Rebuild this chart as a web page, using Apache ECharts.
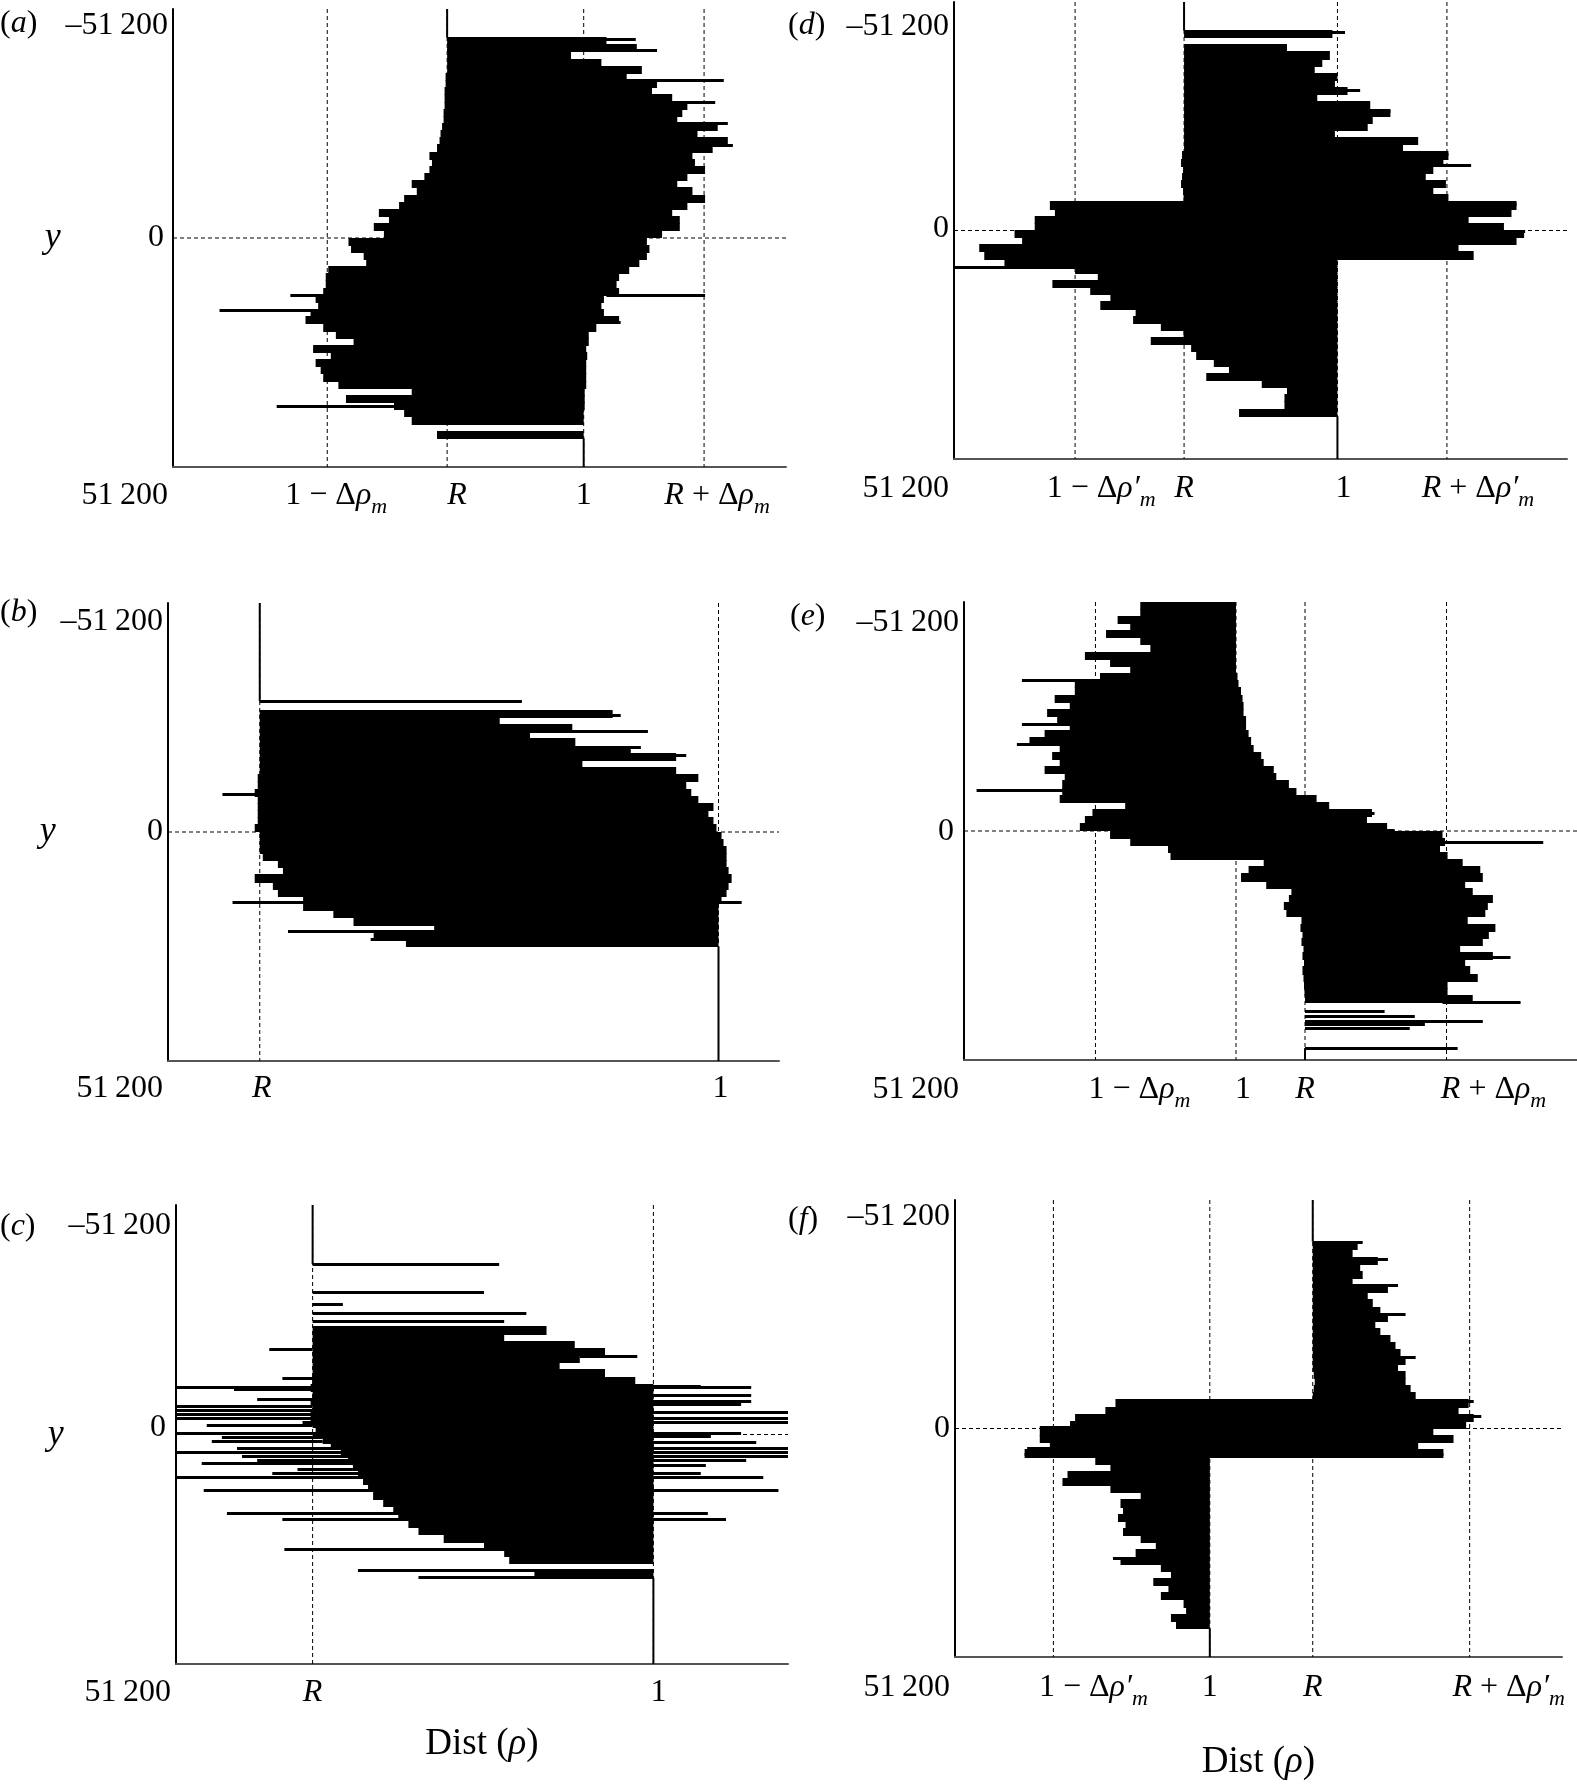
<!DOCTYPE html>
<html>
<head>
<meta charset="utf-8">
<script src="https://cdn.jsdelivr.net/npm/echarts@6.0.0/dist/echarts.min.js"></script>
<style>
html, body { margin: 0; padding: 0; background: #fff; }
#main { width: 1577px; height: 1786px; }
</style>
</head>
<body>
<div id="main"></div>
<script>
// y runs from -51 200 (top) to 51 200 (bottom); each row covers ROW units
var ROW = 1600;
var Y_MIN = -51200, Y_MAX = 51200;
var yTicks = [-51200, 0, 51200];

// ---- (a) ----
var aTicks = [0.493, 0.730, 1.000, 1.238];
var aTickNames = ['1-dm', 'R', '1', 'R+dm'];
var aStart = 4;
var aLeft = [
  0.730,0.730,0.730,0.730,0.730,0.727,0.727,0.725,0.725,0.725,
  0.723,0.723,0.720,0.717,0.715,0.710,0.695,0.700,0.695,0.685,
  0.660,0.670,0.645,0.635,0.595,0.615,0.585,0.605,0.535,0.540,
  0.565,0.570,0.495,0.490,0.490,0.485,0.470,0.475,0.460,0.450,
  0.485,0.510,0.545,0.465,0.500,0.470,0.480,0.485,0.515,0.660,
  0.530,0.625,0.645,0.660,null,0.710];
var aRight = [
  1.045,1.105,0.975,1.035,1.115,1.085,1.145,1.135,1.175,1.205,
  1.195,1.185,1.265,1.225,1.285,1.255,1.215,1.220,1.240,1.205,
  1.185,1.215,1.240,1.205,1.175,1.190,1.190,1.155,1.125,1.130,
  1.125,1.110,1.090,1.070,1.065,1.070,1.040,1.035,1.040,1.070,
  1.025,1.010,1.010,1.005,1.007,1.005,1.005,1.005,1.005,1.002,
  1.002,1.002,1.000,1.000,null,1.000];
var aSpikes = [[-44600,0.730,1.103],[-42080,0.730,1.145],[-35290,0.930,1.277],[-30390,1.075,1.260],
  [-25720,1.135,1.285],[-20810,1.215,1.295],[12740,0.420,0.490],[12740,1.045,1.240],
  [16130,0.280,0.490],[18770,1.045,1.073],[37620,0.393,0.840]];

// ---- (d) ----
var dTicks = [0.480, 0.696, 1.000, 1.217];
var dTickNames = ['1-dm2', 'R', '1', 'R+dm2'];
var dStart = 4;
var dLeft = [
  0.696,null,0.696,0.696,0.696,0.696,0.696,0.696,0.696,0.696,
  0.696,0.696,0.696,0.696,0.696,0.696,0.696,0.692,0.690,0.694,
  0.692,0.690,0.694,0.695,0.430,0.440,0.400,0.400,0.360,0.375,
  0.290,0.300,0.340,0.480,0.525,0.435,0.510,0.550,0.530,0.600,
  0.595,0.650,0.695,0.630,0.710,0.720,0.755,0.785,0.740,0.850,
  0.900,0.895,0.895,0.805];
var dRight = [
  0.990,null,0.900,0.985,0.970,0.955,1.000,0.995,1.020,0.960,
  1.065,1.105,1.070,1.060,0.995,1.160,1.130,1.220,1.210,1.190,
  1.175,1.215,1.190,1.220,1.355,1.345,1.260,1.330,1.370,1.355,
  1.240,1.270,1.000,1.000,1.000,1.000,1.000,1.000,1.000,1.000,
  1.000,1.000,1.000,1.000,1.000,1.000,1.000,1.000,1.000,1.000,
  1.000,1.000,1.000,1.000];
var dSpikes = [[-44470,0.696,1.015],[-31390,0.860,1.045],[-26700,0.810,1.105],[-17240,0.960,1.220],
  [-14600,1.010,1.265],[-5900,0.520,1.355],[150,1.270,1.372],[2420,1.210,1.350],[8090,0.240,0.480]];

// ---- (b) ----
var bTicks = [0.545, 1.000];
var bTickNames = ['R', '1'];
var bStart = 13;
var bLeft = [
  null,null,0.545,0.545,0.545,0.545,0.545,0.545,0.545,0.545,
  0.545,0.543,0.543,0.540,0.543,0.543,0.543,0.543,0.540,0.545,
  0.545,0.545,0.548,0.563,0.568,0.540,0.558,0.563,0.588,0.588,
  0.618,0.638,0.718,0.658,0.690];
var bRight = [
  null,null,0.895,0.783,0.855,0.813,0.858,0.913,0.958,0.865,
  0.958,0.980,0.968,0.973,0.980,0.995,0.990,0.995,0.998,1.003,
  1.005,1.008,1.008,1.008,1.010,1.013,1.010,1.008,1.003,1.000,
  1.000,1.000,1.000,1.000,1.000];
var bSpikes = [[-29290,0.545,0.805],[-26260,0.545,0.903],[-22480,0.623,0.930],[-19080,0.758,0.923],
  [-17190,0.778,0.968],[-8500,0.508,0.545],[15680,0.518,1.023],[22100,0.573,0.818],[23990,0.655,1.000]];

// ---- (e) ----
var eTicks = [0.721, 1.000, 1.137, 1.418];
var eTickNames = ['1-dm', '1', 'R', 'R+dm'];
var eStart = 0;
var eLeft = [
  0.810,0.810,0.765,0.790,0.742,0.810,0.830,0.700,0.750,0.790,
  0.730,0.680,0.680,0.640,0.670,0.625,0.645,0.670,0.620,0.590,
  0.650,0.635,0.650,0.620,0.660,0.655,0.655,0.650,0.780,0.715,
  0.700,0.690,0.750,0.790,0.865,0.870,1.055,1.025,1.010,1.060,
  1.110,1.105,1.095,1.100,1.130,1.128,1.132,1.130,1.134,1.132,
  1.135,1.132,1.134,1.135,1.136,1.137];
var eRight = [
  1.000,1.000,1.000,1.000,1.000,1.000,1.000,1.000,1.000,1.000,
  1.003,1.005,1.010,1.013,1.015,1.015,1.020,1.020,1.025,1.030,
  1.035,1.050,1.055,1.075,1.080,1.105,1.120,1.160,1.185,1.270,
  1.260,1.300,1.410,1.415,1.405,1.420,1.450,1.485,1.490,1.455,
  1.470,1.510,1.500,1.495,1.460,1.515,1.502,1.490,1.445,1.510,
  1.455,1.465,1.480,1.420,1.420,1.470];
var eSpikes = [[-33820,0.575,0.790],[-24000,0.575,0.710],[-19460,0.565,0.670],[-9260,0.485,0.670],
  [-3970,1.200,1.275],[-190,1.210,1.315],[2460,1.400,1.610],[28150,1.450,1.545],[38200,1.410,1.565],
  [40240,1.137,1.295],[41370,1.137,1.355],[42510,1.137,1.490],[43260,1.137,1.375],[44020,1.137,1.345],
  [48550,1.137,1.440]];

// ---- (c) ----
var cTicks = [0.662, 1.000];
var cTickNames = ['R', '1'];
var cStart = 17;
var cLeft = [
  0.662,0.662,0.662,0.662,0.662,0.662,0.662,0.662,0.660,0.662,
  0.660,0.662,0.660,0.662,0.665,0.672,0.680,0.690,0.697,0.702,
  0.707,0.712,0.717,0.722,0.732,0.742,0.747,0.757,0.767,0.792,
  0.832,0.852,0.857,null,0.882];
var cRight = [
  0.894,0.852,0.922,0.952,0.927,0.907,0.952,0.982,1.000,1.000,
  1.000,1.000,1.000,1.000,1.000,1.000,1.000,1.000,1.000,1.000,
  1.000,1.000,1.000,1.000,1.000,1.000,1.000,1.000,1.000,1.000,
  1.000,1.000,1.000,null,1.000];
var cSpikes = [
  [-38060,0.662,0.847],[-31870,0.662,0.832],[-29160,0.662,0.692],[-27040,0.662,0.874],[-25350,0.662,0.852],
  [-18990,0.619,0.662],[-17550,0.927,0.984],[-12630,0.632,0.962],[-10930,0.662,1.047],[-10510,0.527,1.097],
  [-10090,0.584,0.662],[-8820,0.662,1.097],[-7970,0.607,0.662],[-7540,0.662,1.097],[-6700,0.662,1.087],
  [-6270,0.527,0.662],[-5420,0.527,0.662],[-5000,0.662,1.136],[-4580,0.527,0.662],[-3730,0.527,1.136],
  [-2880,0.652,1.136],[-2030,0.557,0.662],[-340,0.527,1.087],[340,0.662,1.057],[510,0.572,0.672],
  [1360,0.562,0.672],[1780,0.672,1.102],[3050,0.587,1.136],[3900,0.527,1.136],[4750,0.592,1.136],
  [5600,0.607,1.092],[6440,0.552,0.702],[6870,0.702,1.052],[7720,0.647,0.702],[8560,0.622,1.047],
  [9410,0.527,1.109],[12380,0.554,1.124],[17460,0.577,1.054],[18740,0.632,1.072],[25520,0.634,0.887],
  [30180,0.707,1.000],[31700,0.767,1.000]];

// ---- (f) ----
var fTicks = [0.690, 1.000, 1.204, 1.515];
var fTickNames = ['1-dm2', '1', 'R', 'R+dm2'];
var fStart = 6;
var fLeft = [
  1.204,1.204,1.204,1.204,1.204,1.204,1.204,1.204,1.204,1.204,
  1.204,1.204,1.204,1.204,1.204,1.204,1.204,1.204,1.206,1.208,
  1.206,1.204,0.813,0.793,0.733,0.723,0.663,0.663,0.683,0.633,
  0.773,0.803,0.718,0.708,0.803,0.863,0.823,0.828,0.818,0.833,
  0.828,0.863,0.893,0.853,0.823,0.903,0.923,0.888,0.918,0.903,
  0.948,0.953,0.923,0.933];
var fRight = [
  1.293,1.283,1.333,1.298,1.303,1.283,1.353,1.313,1.323,1.338,
  1.353,1.328,1.338,1.358,1.368,1.378,1.388,1.373,1.388,1.388,
  1.398,1.408,1.513,1.493,1.523,1.508,1.443,1.483,1.413,1.463,
  1.000,1.000,1.000,1.000,1.000,1.000,1.000,1.000,1.000,1.000,
  1.000,1.000,1.000,1.000,1.000,1.000,1.000,1.000,1.000,1.000,
  1.000,1.000,1.000,1.000];
var fSpikes = [[-41870,1.204,1.303],[-38050,1.204,1.353],[-32110,1.204,1.373],[-25750,1.204,1.388],
  [-15990,1.204,1.408],[-6240,0.873,1.523],[-2840,1.263,1.538],[-300,0.663,1.498],[4370,0.638,1.000],
  [5640,0.633,1.463],[28970,0.808,0.943]];

var FONT = '"Liberation Serif", "DejaVu Serif", "Times New Roman", serif';
var MARKUP = {
  'R': '{i|R}',
  '1': '{n|1}',
  '1-dm': '{n|1 − Δ}{i|ρ}{s|m}',
  'R+dm': '{i|R}{n| + Δ}{i|ρ}{s|m}',
  '1-dm2': '{n|1 − Δ}{i|ρ′}{s|m}',
  'R+dm2': '{i|R}{n| + Δ}{i|ρ′}{s|m}'
};

// layout of the six panels
var panels = [
  { tag: 'a', grid: { left: 173, top: 9, width: 613, height: 458 }, xMin: 0.188, xMax: 1.400,
    ticks: aTicks, names: aTickNames, start: aStart, left: aLeft, right: aRight, spikes: aSpikes,
    topBase: aTicks[1], botBase: aTicks[2], shifts: [9, 10, 0, 13], xMargin: 7,
    yShift: [17, 0, 29], zeroPad: 4, title: [0, 8], yNameGap: 80, distGap: 0 },
  { tag: 'd', grid: { left: 954, top: 2, width: 613, height: 457 }, xMin: 0.240, xMax: 1.455,
    ticks: dTicks, names: dTickNames, start: dStart, left: dLeft, right: dRight, spikes: dSpikes,
    topBase: dTicks[1], botBase: dTicks[2], shifts: [26, 0, 6, 31], xMargin: 8,
    yShift: [25, -2, 30], zeroPad: 0, title: [788, 10], yNameGap: 0, distGap: 0 },
  { tag: 'b', grid: { left: 168, top: 603, width: 611, height: 458 }, xMin: 0.454, xMax: 1.060,
    ticks: bTicks, names: bTickNames, start: bStart, left: bLeft, right: bRight, spikes: bSpikes,
    topBase: bTicks[0], botBase: bTicks[1], shifts: [2, 2], xMargin: 6,
    yShift: [19, 0, 28], zeroPad: 0, title: [0, 597], yNameGap: 75, distGap: 0 },
  { tag: 'e', grid: { left: 964, top: 602, width: 613, height: 458 }, xMin: 0.460, xMax: 1.677,
    ticks: eTicks, names: eTickNames, start: eStart, left: eLeft, right: eRight, spikes: eSpikes,
    topBase: eTicks[1], botBase: eTicks[2], shifts: [44, 7, 0, 47], xMargin: 8,
    yShift: [21, 1, 30], zeroPad: 5, title: [790, 601], yNameGap: 0, distGap: 0 },
  { tag: 'c', grid: { left: 176, top: 1205, width: 612, height: 459 }, xMin: 0.5265, xMax: 1.1335,
    ticks: cTicks, names: cTickNames, start: cStart, left: cLeft, right: cRight, spikes: cSpikes,
    topBase: cTicks[0], botBase: cTicks[1], shifts: [0, 5], xMargin: 7,
    yShift: [21, -7, 29], zeroPad: 5, title: [0, 1211], yNameGap: 83, distGap: 62 },
  { tag: 'f', grid: { left: 955, top: 1200, width: 607, height: 457 }, xMin: 0.495, xMax: 1.698,
    ticks: fTicks, names: fTickNames, start: fStart, left: fLeft, right: fRight, spikes: fSpikes,
    topBase: fTicks[2], botBase: fTicks[1], shifts: [40, 0, 0, 39], xMargin: 9,
    yShift: [17, 0, 31], zeroPad: 0, title: [788, 1204], yNameGap: 0, distGap: 87 }
];

function txt(size, italic, extra) {
  var o = { fontFamily: FONT, fontSize: size, color: '#000', fontWeight: 'normal',
            fontStyle: italic ? 'italic' : 'normal' };
  for (var k in extra) o[k] = extra[k];
  return o;
}

function yLabelStyle(dy, pad) {
  return txt(32, false, {
    lineHeight: 32 + 2 * Math.abs(dy),
    verticalAlign: dy >= 0 ? 'bottom' : 'top',
    padding: [0, pad || 0, 0, 0]
  });
}

function rowData(p) {
  var out = [];
  for (var k = 0; k < p.left.length; k++) {
    if (p.left[k] == null) continue;
    var y = Y_MIN + ROW * (p.start + k);
    out.push([p.left[k], p.right[k], y, y + ROW]);
  }
  return out;
}

function dataExtent(p) {
  var top = Infinity, bot = -Infinity;
  rowData(p).forEach(function (r) { top = Math.min(top, r[2]); bot = Math.max(bot, r[3]); });
  p.spikes.forEach(function (s) { top = Math.min(top, s[0]); bot = Math.max(bot, s[0]); });
  return [top, bot];
}

// one row of the histogram, snapped to whole pixels so that rows meet without seams
function renderRect(params, api) {
  var p0 = api.coord([api.value(0), api.value(2)]);
  var p1 = api.coord([api.value(1), api.value(3)]);
  var y0 = Math.floor(Math.min(p0[1], p1[1]));
  var y1 = Math.ceil(Math.max(p0[1], p1[1]));
  return {
    type: 'rect',
    shape: { x: Math.min(p0[0], p1[0]), y: y0, width: Math.abs(p1[0] - p0[0]), height: y1 - y0 },
    style: { fill: '#000' }
  };
}

function renderSpike(params, api) {
  var p0 = api.coord([api.value(1), api.value(0)]);
  var p1 = api.coord([api.value(2), api.value(0)]);
  return {
    type: 'rect',
    shape: { x: Math.min(p0[0], p1[0]), y: Math.round(p0[1]) - 1, width: Math.abs(p1[0] - p0[0]), height: 3 },
    style: { fill: '#000' }
  };
}

function guideRenderer(dashed) {
  return function (params, api) {
    var p0 = api.coord([api.value(0), api.value(1)]);
    var p1 = api.coord([api.value(2), api.value(3)]);
    return {
      type: 'line',
      shape: { x1: p0[0], y1: p0[1], x2: p1[0], y2: p1[1] },
      style: dashed ? { stroke: '#000', lineWidth: 1, lineDash: [4, 3] }
                    : { stroke: '#000', lineWidth: 2 }
    };
  };
}

var option = {
  animation: false,
  backgroundColor: '#fff',
  title: [], grid: [], xAxis: [], yAxis: [], series: []
};

panels.forEach(function (p, gi) {
  option.title.push({
    left: p.title[0], top: p.title[1], padding: 0,
    text: '{p|(}{i|' + p.tag + '}{p|)}',
    textStyle: { fontWeight: 'normal', rich: { p: txt(32, false), i: txt(32, true) } }
  });

  option.grid.push({
    left: p.grid.left, top: p.grid.top, width: p.grid.width, height: p.grid.height,
    containLabel: false, outerBoundsMode: 'none'
  });

  var xRich = {
    n: txt(32, false, { lineHeight: 44 }),
    i: txt(32, true, { lineHeight: 44 }),
    s: txt(22, true, { lineHeight: 22, verticalAlign: 'bottom' })
  };
  p.shifts.forEach(function (s) { if (s > 0) xRich['w' + s] = { width: 2 * s, lineHeight: 44 }; });

  var xa = {
    type: 'value', gridIndex: gi, min: p.xMin, max: p.xMax,
    axisLine: { show: true, onZero: false, lineStyle: { color: '#555', width: 2 } },
    axisTick: { show: false }, splitLine: { show: false },
    axisLabel: {
      show: true, margin: p.xMargin, customValues: p.ticks,
      formatter: function (v) {
        for (var k = 0; k < p.ticks.length; k++) {
          if (Math.abs(v - p.ticks[k]) < 1e-6) {
            var s = p.shifts[k];
            return (s > 0 ? '{w' + s + '|\u00a0}' : '') + MARKUP[p.names[k]];
          }
        }
        return '';
      },
      rich: xRich
    }
  };
  if (p.distGap) {
    xa.name = '{n|Dist (}{i|ρ}{n|)}';
    xa.nameLocation = 'middle';
    xa.nameGap = p.distGap;
    xa.nameTextStyle = { rich: { n: txt(37, false), i: txt(37, true) } };
  }
  option.xAxis.push(xa);

  var ya = {
    type: 'value', gridIndex: gi, inverse: true, min: Y_MIN, max: Y_MAX,
    axisLine: { show: true, onZero: false, lineStyle: { color: '#000', width: 2 } },
    axisTick: { show: false }, splitLine: { show: false },
    axisLabel: {
      show: true, margin: 5, customValues: yTicks,
      formatter: function (v) {
        if (v === Y_MIN) return '{t|–51\u2009200}';
        if (v === 0) return '{z|0}';
        if (v === Y_MAX) return '{b|51\u2009200}';
        return '';
      },
      rich: {
        t: yLabelStyle(p.yShift[0]),
        z: yLabelStyle(p.yShift[1], p.zeroPad),
        b: yLabelStyle(p.yShift[2])
      }
    }
  };
  if (p.yNameGap) {
    ya.name = 'y';
    ya.nameLocation = 'middle';
    ya.nameRotate = 0;
    ya.nameGap = p.yNameGap;
    ya.nameTextStyle = txt(36, true);
  }
  option.yAxis.push(ya);

  var ext = dataExtent(p);
  var dashed = p.ticks.map(function (t) { return [t, Y_MIN, t, Y_MAX]; });
  dashed.push([p.xMin, 0, p.xMax, 0]);
  var solid = [[p.topBase, Y_MIN, p.topBase, ext[0]], [p.botBase, ext[1], p.botBase, Y_MAX]];

  option.series.push({
    type: 'custom', xAxisIndex: gi, yAxisIndex: gi, z: 1, clip: true, silent: true,
    renderItem: guideRenderer(true), data: dashed
  });
  option.series.push({
    type: 'custom', xAxisIndex: gi, yAxisIndex: gi, z: 2, clip: true, silent: true,
    renderItem: guideRenderer(false), data: solid
  });
  option.series.push({
    type: 'custom', xAxisIndex: gi, yAxisIndex: gi, z: 3, clip: true, silent: true,
    renderItem: renderRect, data: rowData(p)
  });
  option.series.push({
    type: 'custom', xAxisIndex: gi, yAxisIndex: gi, z: 3, clip: true, silent: true,
    renderItem: renderSpike, data: p.spikes
  });
});

var chart = echarts.init(document.getElementById('main'));
chart.setOption(option);
window.addEventListener('resize', function () { chart.resize(); });
</script>
</body>
</html>
